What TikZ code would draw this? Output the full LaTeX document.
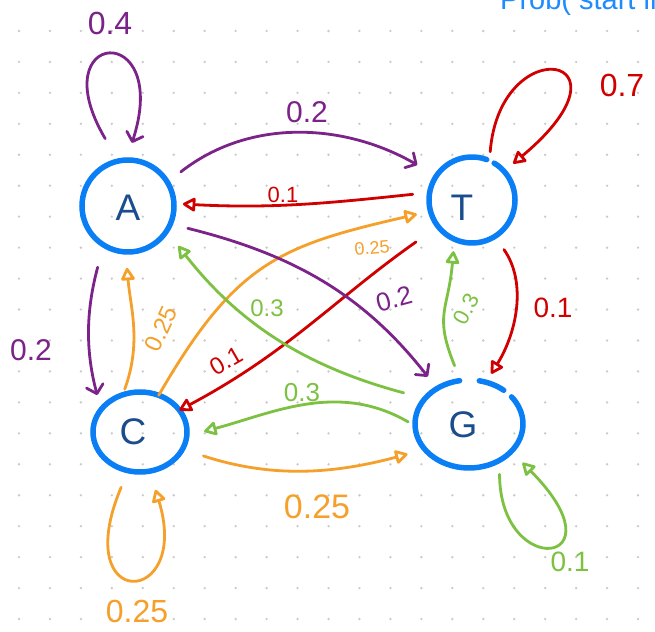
\documentclass[tikz,border=0pt]{standalone}
\usepackage{fontspec}
\setmainfont{Liberation Sans}
\usetikzlibrary{arrows.meta,shapes.geometric,calc}
\definecolor{ringblue}{HTML}{0A7FF5}
\definecolor{letterblue}{HTML}{1B4C8C}
\definecolor{purp}{HTML}{7B2388}
\definecolor{redc}{HTML}{D00000}
\definecolor{orng}{HTML}{F5A02A}
\definecolor{grn}{HTML}{7DC142}
\definecolor{dotgray}{HTML}{CACACA}
\definecolor{probblue}{HTML}{1E8BFF}
\tikzset{
  fs/.style={font=\fontsize{#1}{#1}\selectfont},
  ringnode/.style={ellipse, inner sep=0pt, outer sep=0pt},
  ringline/.style={draw=ringblue, line width=5.5pt, line cap=round},
  letter/.style={fs=37, text=letterblue, inner sep=0pt},
  lbl/.style={inner sep=0pt},
  conn/.style={line width=2.8pt, line cap=round, line join=round},
  purpconn/.style={conn, draw=purp, -{Straight Barb[length=8pt,width=17pt,round]}},
  redconn/.style={conn, draw=redc, -{Triangle[open,length=14pt,width=15pt,round]}},
  orngconn/.style={conn, draw=orng, -{Triangle[open,length=14pt,width=15pt,round]}},
  grnconn/.style={conn, draw=grn, -{Triangle[open,length=14pt,width=15pt,round]}},
}
\begin{document}
\begin{tikzpicture}[x=1pt,y=1pt]
\useasboundingbox (0,0) rectangle (655,631);
\clip (0,0) rectangle (655,631);
\fill[white] (0,0) rectangle (655,631);
\foreach \i in {0,...,20}{\foreach \j in {0,...,19}{\fill[dotgray] ({19+30.95*\i},{600-30.95*\j}) circle[radius=1.3];}}

\node[fs=29, text=probblue, anchor=base west, inner sep=0pt] (prob) at (500,621) {Prob( start in};

% states
\node[ringnode, ringline, minimum width=92pt, minimum height=92pt] (A) at (128,425) {};
\node[ringnode, minimum width=86pt, minimum height=86pt] (T) at (472,431) {};
\node[ringnode, ringline, minimum width=94pt, minimum height=80pt] (C) at (140,199) {};
\node[ringnode, minimum width=108pt, minimum height=88pt] (G) at (469,207) {};
\draw[ringline] ($(T)+(70:43)$) arc[start angle=70,end angle=419,radius=43];
\draw[ringline] ($(G)+(100:54 and 44)$) arc[start angle=100,end angle=398,x radius=54,y radius=44];
\draw[ringline] ($(G)+(50:54 and 44)$) arc[start angle=50,end angle=79,x radius=54,y radius=44];

\node[letter] (Alab) at (128,423) {A};
\node[letter] (Tlab) at (462,423) {T};
\node[letter] (Clab) at (133,199) {C};
\node[letter] (Glab) at (463,206) {G};

% self loops
\draw[purpconn, shorten <=26pt, shorten >=18pt] (A.102) .. controls +(-78,132) and +(46,141) .. (A.92);
\draw[redconn, shorten <=9pt, shorten >=12pt] (T.66) .. controls +(10.5,132) and +(140,117) .. (T.42);
\draw[orngconn, shorten <=18pt, shorten >=19.5pt] (C.253) .. controls +(-60,-142) and +(42,-137) .. (C.284.5);
\draw[grnconn, shorten <=14pt, shorten >=16pt] (G.-50) .. controls +(0.5,-120.7) and +(113.7,-114.5) .. (G.-33);

% transitions
\draw[purpconn, shorten <=17pt, shorten >=22pt] (A.31) to[out=38,in=150] (T.146);
\draw[redconn, shorten <=17pt, shorten >=9pt] (T.170) to[out=186,in=-3] (A.3);
\draw[orngconn, shorten >=14pt] (C.63) to[out=60,in=193,looseness=1.2] (T.195);
\draw[redconn, shorten <=27pt] (T.218) to[out=215,in=28] (C.29);
\draw[purpconn, shorten <=18pt, shorten >=15pt] (A.-23) to[out=-14,in=128] (G.132);
\draw[grnconn, shorten <=22pt, shorten >=19pt] (G.150) to[out=165,in=-52] (A.-33);
\draw[grnconn, shorten <=8pt, shorten >=18pt] (G.182) to[out=150,in=15] (C.-5);
\draw[orngconn, shorten <=22pt, shorten >=18pt] (C.-22) to[out=-18,in=195] (G.210);
\draw[purpconn, shorten <=23pt, shorten >=15pt] (A.238) to[out=255,in=105] (C.150);
\draw[orngconn, shorten <=6pt, shorten >=16pt] (C.115) to[out=70,in=275] (A.267);
\draw[grnconn, shorten <=16pt, shorten >=12pt] (G.101) to[out=112,in=265,looseness=1.3] (T.246);
\draw[redconn, shorten <=16pt, shorten >=10pt] (T.302) to[out=-55,in=58] (G.68);

% labels
\node[lbl, fs=32, text=purp] (lAA) at (110,608) {0.4};
\node[lbl, fs=32, text=redc] (lTT) at (622,546) {0.7};
\node[lbl, fs=32, text=orng] (lCC) at (137,20) {0.25};
\node[lbl, fs=28, text=grn] (lGG) at (570,69) {0.1};
\node[lbl, fs=30, text=purp] (lAT) at (307,519) {0.2};
\node[lbl, fs=22, text=redc] (lTA) at (283,436) {0.1};
\node[lbl, fs=18, text=orng, rotate=5] (lCT) at (372,383) {0.25};
\node[lbl, fs=24, text=redc, rotate=30] (lTC) at (226,270) {0.1};
\node[lbl, fs=26, text=purp, rotate=15] (lAG) at (394,332) {0.2};
\node[lbl, fs=24, text=grn] (lGA) at (267,323) {0.3};
\node[lbl, fs=26, text=grn] (lGC) at (302,238) {0.3};
\node[lbl, fs=34, text=orng] (lCG) at (317,124) {0.25};
\node[lbl, fs=30, text=purp] (lAC) at (31,281) {0.2};
\node[lbl, fs=24, text=orng, rotate=65] (lCA) at (161,302) {0.25};
\node[lbl, fs=22, text=grn, rotate=62] (lGT) at (466,322) {0.3};
\node[lbl, fs=28, text=redc] (lTG) at (553,323) {0.1};
\end{tikzpicture}
\end{document}
